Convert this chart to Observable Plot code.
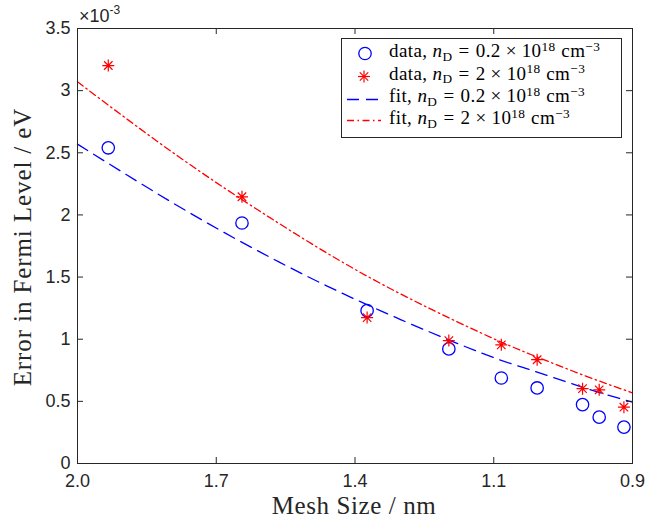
<!DOCTYPE html>
<html><head><meta charset="utf-8">
<script src="https://cdn.jsdelivr.net/npm/d3@7"></script>
<script src="https://cdn.jsdelivr.net/npm/@observablehq/plot@0.6"></script>
<style>
html,body{margin:0;padding:0;background:#fff;}
#wrap{position:relative;width:645px;height:525px;overflow:hidden;}
.ov{position:absolute;white-space:nowrap;color:#262626;}
.serif{font-family:"Liberation Serif","Times New Roman",serif;}
.sup{font-size:0.7em;position:relative;top:-0.48em;line-height:0;}
.sub{font-size:0.7em;position:relative;top:0.28em;line-height:0;}
.rel{margin:0 0.32em;}
.bin{margin:0 0.26em;}
.sp{margin-left:0.3em;}
</style></head><body><div id="wrap"></div>
<script>
// Mesh size (nm) of each simulation
const meshSize = [1.939, 1.674, 1.426, 1.264, 1.160, 1.089, 0.999, 0.966, 0.917];
// Error in Fermi level (×10^-3 eV), n_D = 0.2e18 cm^-3
const errLow = [2.54, 1.935, 1.23, 0.922, 0.688, 0.608, 0.474, 0.373, 0.293];
// Error in Fermi level (×10^-3 eV), n_D = 2e18 cm^-3
const errHigh = [3.202, 2.146, 1.174, 0.989, 0.955, 0.835, 0.602, 0.593, 0.453];
// Fit curves
const fitMesh = [2.0, 1.8, 1.6, 1.4, 1.2, 1.1, 1.0, 0.9];
const fitLow = [2.570, 2.07, 1.62, 1.23, 0.89, 0.75, 0.615, 0.493];
const fitHigh = [3.071, 2.47, 1.93, 1.45, 1.05, 0.875, 0.715, 0.568];
// Axis ticks
const xTickValues = [2.0, 1.725, 1.45, 1.175, 0.9];
const xTickLabels = ["2.0", "1.7", "1.4", "1.1", "0.9"];
const yTickValues = [0, 0.5, 1, 1.5, 2, 2.5, 3, 3.5];
const yTickLabels = ["0", "0.5", "1", "1.5", "2", "2.5", "3", "3.5"];

const pts = meshSize.map((h, i) => ({h, low: errLow[i], high: errHigh[i]}));
const fits = fitMesh.map((h, i) => ({h, low: fitLow[i], high: fitHigh[i]}));

const asterisk8 = {
  draw(ctx, size) {
    const r = Math.sqrt(size / Math.PI);
    const d = r * Math.SQRT1_2;
    ctx.moveTo(0, -r); ctx.lineTo(0, r);
    ctx.moveTo(-r, 0); ctx.lineTo(r, 0);
    ctx.moveTo(-d, -d); ctx.lineTo(d, d);
    ctx.moveTo(-d, d); ctx.lineTo(d, -d);
  }
};
const BLUE = "#0000ff", RED = "#ff0000", AX = "#262626";
const W = 645, H = 525, ML = 77, MR = 13, MT = 28, MB = 62;
const innerW = W - ML - MR, innerH = H - MT - MB, TK = 6;
const fx = d => xTickLabels[xTickValues.indexOf(d)];
const fy = d => yTickLabels[yTickValues.indexOf(d)];

const chart = Plot.plot({
  width: W, height: H,
  marginLeft: ML, marginRight: MR, marginTop: MT, marginBottom: MB,
  style: {fontFamily: "'Liberation Sans', Arial, sans-serif", fontSize: "18px", color: AX, background: "white", overflow: "visible"},
  x: {type: "linear", domain: [2.0, 0.9]},
  y: {type: "linear", domain: [0, 3.5]},
  marks: [
    Plot.line(fits, {x: "h", y: "low", curve: "natural", stroke: BLUE, strokeWidth: 1.3, strokeDasharray: "12,7"}),
    Plot.line(fits, {x: "h", y: "high", curve: "natural", stroke: RED, strokeWidth: 1.3, strokeDasharray: "7,3.5,1.5,3.5"}),
    Plot.dot(pts, {x: "h", y: "low", r: 6.2, stroke: BLUE, strokeWidth: 1.3, fill: "none"}),
    Plot.dot(pts, {x: "h", y: "high", r: 6, symbol: asterisk8, stroke: RED, strokeWidth: 1.2, fill: "none"}),
    // inward ticks on all four sides
    Plot.tickX(xTickValues, {x: d => d, insetTop: innerH - TK, stroke: AX}),
    Plot.tickX(xTickValues, {x: d => d, insetBottom: innerH - TK, stroke: AX}),
    Plot.tickY(yTickValues, {y: d => d, insetRight: innerW - TK, stroke: AX}),
    Plot.tickY(yTickValues, {y: d => d, insetLeft: innerW - TK, stroke: AX}),
    Plot.frame({stroke: AX, strokeWidth: 1}),
    Plot.axisX(xTickValues, {anchor: "bottom", tickSize: 0, tickPadding: 11, tickFormat: fx, label: null, fill: AX}),
    Plot.axisY(yTickValues, {anchor: "left", tickSize: 0, tickPadding: 7, tickFormat: fy, label: null, fill: AX})
  ]
});
const wrap = document.getElementById("wrap");
wrap.appendChild(chart);

function ov(html, css, cls) {
  const d = document.createElement("div");
  d.className = "ov " + (cls || "");
  d.style.cssText = css;
  d.innerHTML = html;
  wrap.appendChild(d);
  return d;
}
// exponent label
ov('×10<span class="sup" style="font-size:12px;top:-8px;">-3</span>',
   'left:79px;top:6px;font-family:"Liberation Sans",Arial,sans-serif;font-size:18px;line-height:20px;');
// axis titles
ov('Mesh Size / nm', 'left:154px;width:400px;text-align:center;top:492px;font-size:25px;line-height:28px;letter-spacing:0.6px;', 'serif');
ov('Error in Fermi Level / eV', 'left:-177px;width:400px;text-align:center;top:233px;font-size:25px;line-height:28px;letter-spacing:0.9px;transform:rotate(-90deg);', 'serif');

// legend box and symbols
const NS = "http://www.w3.org/2000/svg";
const lg = document.createElementNS(NS, "svg");
lg.setAttribute("width", W); lg.setAttribute("height", H);
lg.style.cssText = "position:absolute;left:0;top:0;";
lg.innerHTML = `
<rect x="341.5" y="38.5" width="280" height="99" fill="white" stroke="${AX}" stroke-width="1"/>
<circle cx="365" cy="53.5" r="6.2" fill="none" stroke="${BLUE}" stroke-width="1.3"/>
<g stroke="${RED}" stroke-width="1.2">
 <line x1="364" y1="70.5" x2="364" y2="82.5"/><line x1="358" y1="76.5" x2="370" y2="76.5"/>
 <line x1="359.8" y1="72.3" x2="368.2" y2="80.7"/><line x1="359.8" y1="80.7" x2="368.2" y2="72.3"/>
</g>
<line x1="347" y1="99.5" x2="381" y2="99.5" stroke="${BLUE}" stroke-width="1.3" stroke-dasharray="12,7"/>
<line x1="347" y1="120.5" x2="381" y2="120.5" stroke="${RED}" stroke-width="1.3" stroke-dasharray="7,3.5,1.5,3.5"/>`;
wrap.appendChild(lg);

const legendRows = [
  'data, <i>n</i><span class="sub">D</span><span class="rel">=</span>0.2<span class="bin">×</span>10<span class="sup">18</span><span class="sp">cm</span><span class="sup">−3</span>',
  'data, <i>n</i><span class="sub">D</span><span class="rel">=</span>2<span class="bin">×</span>10<span class="sup">18</span><span class="sp">cm</span><span class="sup">−3</span>',
  'fit, <i>n</i><span class="sub">D</span><span class="rel">=</span>0.2<span class="bin">×</span>10<span class="sup">18</span><span class="sp">cm</span><span class="sup">−3</span>',
  'fit, <i>n</i><span class="sub">D</span><span class="rel">=</span>2<span class="bin">×</span>10<span class="sup">18</span><span class="sp">cm</span><span class="sup">−3</span>'
];
const baselines = [57, 79.5, 102, 124];
legendRows.forEach((t, i) => {
  ov(t, `left:389px;top:${baselines[i] - 15}px;font-size:19px;line-height:18px;letter-spacing:0.4px;color:#000;`, 'serif');
});
</script></body></html>
